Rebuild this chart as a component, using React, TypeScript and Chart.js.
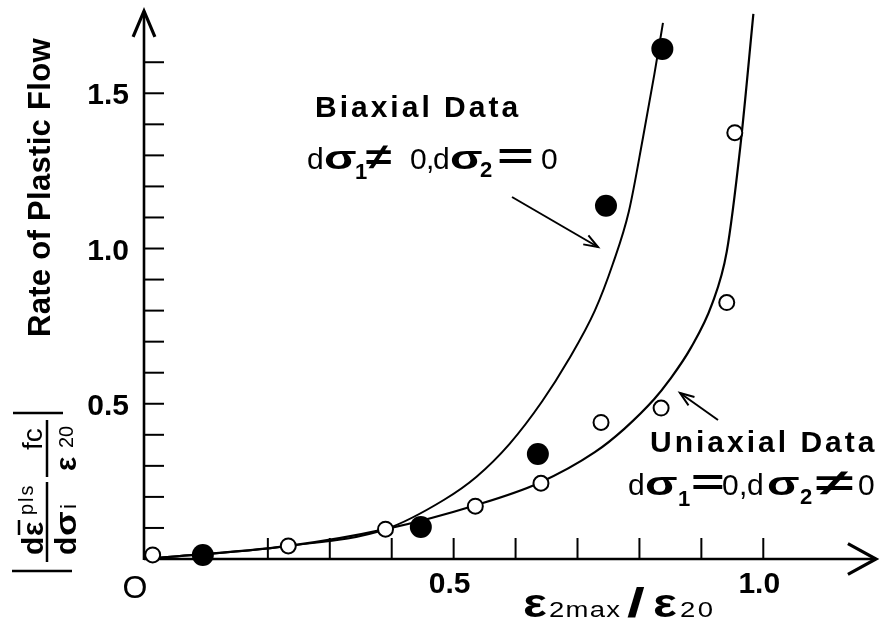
import React, { useEffect, useRef } from "react";
import { Chart, registerables } from "chart.js";

Chart.register(...registerables);

const FONT = '"Liberation Sans", Arial, Helvetica, sans-serif';

// ---- data ----
const biaxialX = [0.095, 0.447, 0.636, 0.746, 0.837];
const biaxialY = [0.013, 0.103, 0.338, 1.138, 1.643];

const uniaxialX = [0.014, 0.233, 0.39, 0.535, 0.641, 0.738, 0.835, 0.941, 0.954];
const uniaxialY = [0.013, 0.042, 0.096, 0.17, 0.244, 0.44, 0.486, 0.826, 1.373];

const biaxialCurveX = [0, 0.233, 0.39, 0.484, 0.537, 0.59, 0.643, 0.685, 0.728, 0.757, 0.783, 0.806, 0.824, 0.838];
const biaxialCurveY = [0, 0.042, 0.096, 0.19, 0.265, 0.37, 0.508, 0.64, 0.8, 0.95, 1.12, 1.36, 1.56, 1.727];

const uniaxialCurveX = [0, 0.233, 0.39, 0.537, 0.637, 0.728, 0.776, 0.824, 0.848, 0.883, 0.917, 0.941, 0.963, 0.984];
const uniaxialCurveY = [0, 0.042, 0.096, 0.174, 0.244, 0.344, 0.42, 0.515, 0.575, 0.68, 0.82, 0.99, 1.33, 1.756];

const xTicks = [0.2, 0.3, 0.4, 0.5, 0.6, 0.7, 0.8, 0.9, 1.0];
const xTickLabels = [
  { v: 0, t: "O" },
  { v: 0.5, t: "0.5" },
  { v: 1.0, t: "1.0" },
];
const yTicks = [0.1, 0.2, 0.3, 0.4, 0.5, 0.6, 0.7, 0.8, 0.9, 1.0, 1.1, 1.2, 1.3, 1.4, 1.5, 1.6];
const yTickLabels = ["0.5", "1.0", "1.5"];

const X_MAX = 1.182;
const Y_MAX = 1.765;

type Seg = { t: string; dx: number; size: number; bold?: boolean; dy?: number; sx?: number; ls?: number };

function drawSegs(ctx: CanvasRenderingContext2D, x0: number, y0: number, segs: Seg[]) {
  for (const s of segs) {
    ctx.save();
    ctx.translate(x0 + s.dx, y0 + (s.dy || 0));
    ctx.scale(s.sx || 1, 1);
    ctx.font = `${s.bold ? "bold " : ""}${s.size}px ${FONT}`;
    (ctx as any).letterSpacing = (s.ls || 0) + "px";
    ctx.textAlign = "left";
    ctx.textBaseline = "alphabetic";
    ctx.fillStyle = "#000";
    ctx.fillText(s.t, 0, 0);
    ctx.restore();
  }
}

function line(ctx: CanvasRenderingContext2D, x1: number, y1: number, x2: number, y2: number, w: number) {
  ctx.beginPath();
  ctx.lineWidth = w;
  ctx.moveTo(x1, y1);
  ctx.lineTo(x2, y2);
  ctx.stroke();
}

function arrowHead(ctx: CanvasRenderingContext2D, fx: number, fy: number, tx: number, ty: number, len: number, ang: number, w: number) {
  const a = Math.atan2(ty - fy, tx - fx);
  ctx.beginPath();
  ctx.lineWidth = w;
  ctx.moveTo(tx - len * Math.cos(a - ang), ty - len * Math.sin(a - ang));
  ctx.lineTo(tx, ty);
  ctx.lineTo(tx - len * Math.cos(a + ang), ty - len * Math.sin(a + ang));
  ctx.stroke();
}

const axesPlugin = {
  id: "axesDecor",
  beforeDatasetsDraw(chart: any) {
    const ctx: CanvasRenderingContext2D = chart.ctx;
    const xs = chart.scales.x;
    const ys = chart.scales.y;
    const area = chart.chartArea;
    const ox = xs.getPixelForValue(0);
    const oy = ys.getPixelForValue(0);
    ctx.save();
    ctx.strokeStyle = "#000";
    ctx.lineCap = "butt";
    // y axis with arrow
    line(ctx, ox, oy + 1, ox, area.top, 2.6);
    arrowHead(ctx, ox, oy, ox, area.top, 28, 0.4, 3.2);
    // x axis with arrow
    line(ctx, ox, oy, area.right, oy, 2.6);
    arrowHead(ctx, ox, oy, area.right, oy, 32, 0.5, 3.2);
    // ticks
    for (const v of yTicks) {
      const y = ys.getPixelForValue(v);
      line(ctx, ox, y, ox + 20, y, 2);
    }
    for (const v of xTicks) {
      const x = xs.getPixelForValue(v);
      line(ctx, x, oy, x, oy - 21, 2);
    }
    // tick labels
    ctx.fillStyle = "#000";
    ctx.font = `bold 30px ${FONT}`;
    ctx.textAlign = "right";
    ctx.textBaseline = "alphabetic";
    for (const t of yTickLabels) {
      const y = ys.getPixelForValue(parseFloat(t));
      ctx.fillText(t, ox - 15, y + 11);
    }
    ctx.textAlign = "center";
    for (const t of xTickLabels) {
      const x = xs.getPixelForValue(t.v);
      if (t.t === "O") {
        ctx.font = `32px ${FONT}`;
        ctx.fillText(t.t, x - 9, oy + 39);
      } else {
        ctx.font = `bold 30px ${FONT}`;
        ctx.fillText(t.t, x - 4, oy + 34);
      }
    }
    ctx.restore();
  },
  afterDatasetsDraw(chart: any) {
    const ctx: CanvasRenderingContext2D = chart.ctx;
    ctx.save();
    ctx.fillStyle = "#000";
    ctx.strokeStyle = "#000";

    // y title (rotated)
    ctx.save();
    ctx.translate(50, 337);
    ctx.rotate(-Math.PI / 2);
    ctx.font = `bold 31px ${FONT}`;
    (ctx as any).letterSpacing = "0.3px";
    ctx.textAlign = "left";
    ctx.textBaseline = "alphabetic";
    ctx.fillText("Rate of Plastic Flow", 0, 0);
    ctx.restore();

    // rotated formula |dε̄pls/dσi · fc/ε20|
    ctx.save();
    ctx.translate(0, 575);
    ctx.rotate(-Math.PI / 2);
    line(ctx, 4, 12, 4, 72, 2.5);
    line(ctx, 162, 13, 162, 63, 2.5);
    line(ctx, 13, 47, 93, 47, 2.5);
    line(ctx, 98, 47, 155, 47, 2.5);
    drawSegs(ctx, 0, 0, [
      { t: "d", dx: 20, dy: 43, size: 30, bold: true },
      { t: "ε", dx: 39, dy: 43, size: 30, bold: true },
      { t: "pls", dx: 60, dy: 33, size: 20, ls: 2 },
      { t: "d", dx: 20, dy: 76, size: 30, bold: true },
      { t: "σ", dx: 39, dy: 76, size: 30, bold: true, sx: 1.2 },
      { t: "i", dx: 66, dy: 76, size: 22 },
      { t: "fc", dx: 125, dy: 42, size: 28 },
      { t: "ε", dx: 104, dy: 76, size: 30, bold: true },
      { t: "20", dx: 127, dy: 73, size: 20 },
    ]);
    line(ctx, 40, 19, 55, 19, 2.5);
    ctx.restore();

    // x title ε2max/ε20
    drawSegs(ctx, 523, 617, [
      { t: "ε", dx: 0, size: 40, bold: true, sx: 1.25 },
      { t: "2max", dx: 26, size: 22, sx: 1.25, ls: 1 },
      { t: "/", dx: 104, size: 40, bold: true, sx: 1.6 },
      { t: "ε", dx: 130, size: 40, bold: true, sx: 1.25 },
      { t: "20", dx: 157, size: 22, sx: 1.25, ls: 2 },
    ]);

    // Biaxial annotation
    drawSegs(ctx, 315, 117, [{ t: "Biaxial Data", dx: 0, size: 30, bold: true, ls: 3 }]);
    drawSegs(ctx, 307, 169, [
      { t: "d", dx: 0, size: 30 },
      { t: "σ", dx: 17, size: 34, bold: true, sx: 1.4 },
      { t: "1", dx: 48, size: 22, bold: true, dy: 10 },
      { t: "≠", dx: 59, size: 36, bold: true, sx: 1.3 },
      { t: "0", dx: 103, size: 30 },
      { t: ",", dx: 119, size: 30 },
      { t: "d", dx: 126, size: 30 },
      { t: "σ", dx: 143, size: 34, bold: true, sx: 1.4 },
      { t: "2", dx: 173, size: 22, bold: true, dy: 8 },
      { t: "=", dx: 190, size: 36, bold: true, sx: 1.75 },
      { t: "0", dx: 234, size: 30 },
    ]);
    line(ctx, 512, 197, 598, 247, 2);
    arrowHead(ctx, 512, 197, 598, 247, 15, 0.35, 2);

    // Uniaxial annotation
    drawSegs(ctx, 650, 452, [{ t: "Uniaxial Data", dx: 0, size: 30, bold: true, ls: 3 }]);
    drawSegs(ctx, 628, 495, [
      { t: "d", dx: 0, size: 30 },
      { t: "σ", dx: 17, size: 34, bold: true, sx: 1.4 },
      { t: "1", dx: 50, size: 22, bold: true, dy: 11 },
      { t: "=", dx: 63, size: 36, bold: true, sx: 1.6 },
      { t: "0", dx: 94, size: 30 },
      { t: ",", dx: 111, size: 30 },
      { t: "d", dx: 119, size: 30 },
      { t: "σ", dx: 139, size: 34, bold: true, sx: 1.4 },
      { t: "2", dx: 172, size: 22, bold: true, dy: 9 },
      { t: "≠", dx: 188, size: 36, bold: true, sx: 1.9 },
      { t: "0", dx: 230, size: 30 },
    ]);
    line(ctx, 718, 420, 680, 393, 2);
    arrowHead(ctx, 718, 420, 680, 393, 15, 0.35, 2);

    ctx.restore();
  },
};

export default function App() {
  const ref = useRef<HTMLCanvasElement | null>(null);
  useEffect(() => {
    document.body.style.margin = "0";
    const canvas = ref.current;
    if (!canvas) return;
    const pts = (xs: number[], ys: number[]) => xs.map((x, i) => ({ x, y: ys[i] }));
    const chart = new Chart(canvas, {
      type: "line",
      data: {
        datasets: [
          {
            label: "Biaxial",
            data: pts(biaxialX, biaxialY),
            showLine: false,
            pointRadius: 11,
            pointBackgroundColor: "#000",
            pointBorderColor: "#000",
            pointBorderWidth: 0,
            clip: false,
          } as any,
          {
            label: "Uniaxial",
            data: pts(uniaxialX, uniaxialY),
            showLine: false,
            pointRadius: 7.5,
            pointBackgroundColor: "#fff",
            pointBorderColor: "#000",
            pointBorderWidth: 2,
            clip: false,
          } as any,
          {
            label: "Biaxial fit",
            data: pts(biaxialCurveX, biaxialCurveY),
            borderColor: "#000",
            borderWidth: 2,
            pointRadius: 0,
            cubicInterpolationMode: "monotone",
            fill: false,
            clip: false,
          } as any,
          {
            label: "Uniaxial fit",
            data: pts(uniaxialCurveX, uniaxialCurveY),
            borderColor: "#000",
            borderWidth: 2.2,
            pointRadius: 0,
            cubicInterpolationMode: "monotone",
            fill: false,
            clip: false,
          } as any,
        ],
      },
      options: {
        animation: false,
        responsive: false,
        devicePixelRatio: 1,
        events: [],
        layout: { padding: { left: 144, right: 3, top: 10, bottom: 73 } },
        scales: {
          x: { type: "linear", min: 0, max: X_MAX, display: false },
          y: { type: "linear", min: 0, max: Y_MAX, display: false },
        },
        plugins: { legend: { display: false }, tooltip: { enabled: false } },
      },
      plugins: [axesPlugin],
    });
    return () => chart.destroy();
  }, []);
  return (
    <div style={{ position: "fixed", left: 0, top: 0, width: 887, height: 632, background: "#fff" }}>
      <canvas ref={ref} width={887} height={632} style={{ display: "block" }} />
    </div>
  );
}
